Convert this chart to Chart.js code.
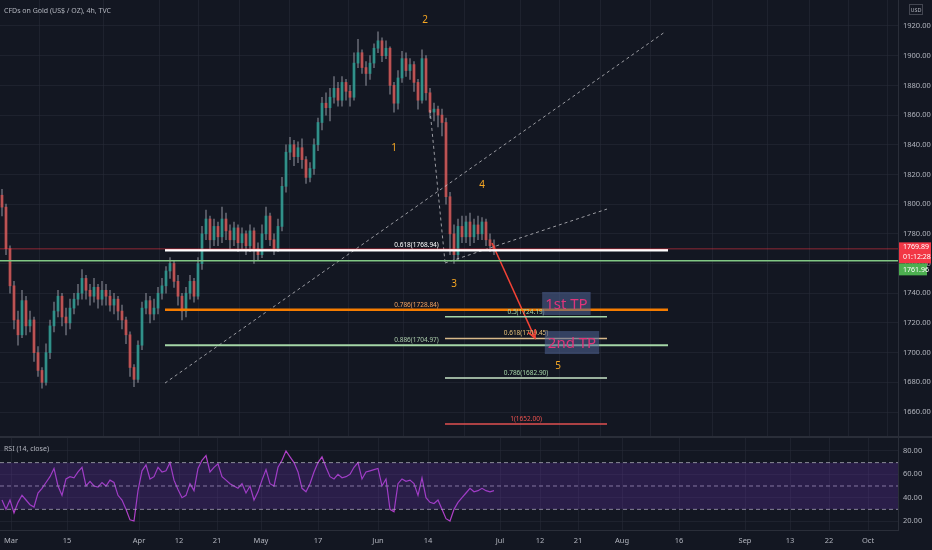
<!DOCTYPE html>
<html>
<head>
<meta charset="utf-8">
<script src="https://cdn.jsdelivr.net/npm/chart.js@4.4.1/dist/chart.umd.min.js"></script>
<style>
  html, body { margin: 0; padding: 0; background: #131722; }
  canvas { display: block; }
</style>
</head>
<body>
<canvas id="price" width="932" height="438"></canvas>
<canvas id="rsi" width="932" height="112"></canvas>
<script>
// 4h gold candles, sampled roughly every few bars (x = candle index)
const firstOpen = 1806;
const closes = [
  1798, 1770, 1745, 1722, 1712, 1735, 1718, 1722, 1700, 1688,
  1680, 1700, 1718, 1728, 1738, 1724, 1720, 1730, 1736, 1740,
  1750, 1742, 1738, 1744, 1736, 1742, 1738, 1732, 1736, 1728,
  1722, 1712, 1690, 1682, 1705, 1730, 1735, 1726, 1730, 1740,
  1745, 1755, 1760, 1748, 1738, 1728, 1740, 1748, 1738, 1760,
  1780, 1790, 1776, 1785, 1778, 1790, 1782, 1776, 1784, 1774,
  1780, 1772, 1782, 1770, 1766, 1780, 1792, 1776, 1770, 1785,
  1812, 1835, 1840, 1832, 1838, 1830, 1818, 1824, 1840, 1855,
  1868, 1865, 1872, 1878, 1870, 1882, 1876, 1872, 1895, 1902,
  1892, 1888, 1895, 1905, 1910, 1900, 1905, 1880, 1868, 1885,
  1898, 1890, 1894, 1882, 1870, 1898, 1875, 1862, 1864, 1860,
  1855, 1805, 1780, 1766, 1785, 1778, 1788, 1778, 1786, 1780,
  1788, 1776, 1772, 1769.89
];
const highs = [
  1810, 1800, 1772, 1748, 1728, 1742, 1738, 1728, 1724, 1704,
  1690, 1706, 1722, 1734, 1742, 1740, 1730, 1736, 1740, 1746,
  1756, 1752, 1746, 1750, 1746, 1748, 1746, 1742, 1740, 1738,
  1732, 1724, 1714, 1692, 1708, 1734, 1740, 1738, 1736, 1744,
  1750, 1758, 1764, 1762, 1752, 1740, 1744, 1752, 1750, 1764,
  1785, 1796, 1792, 1790, 1788, 1798, 1794, 1786, 1788, 1786,
  1784, 1782, 1786, 1784, 1774, 1786, 1798, 1794, 1780, 1790,
  1818, 1840, 1845, 1843, 1842, 1844, 1832, 1828, 1844, 1858,
  1872, 1875, 1878, 1886, 1882, 1886, 1884, 1880, 1902, 1911,
  1904, 1896, 1900, 1908, 1916, 1912, 1910, 1906, 1882, 1890,
  1903, 1902, 1898, 1896, 1884, 1904, 1900, 1878, 1868, 1866,
  1864, 1858, 1808, 1786, 1790, 1792, 1792, 1794, 1790, 1792,
  1791, 1790, 1780, 1776
];
const lows = [
  1792, 1766, 1740, 1716, 1705, 1710, 1712, 1714, 1694, 1684,
  1676, 1678, 1696, 1714, 1724, 1718, 1712, 1716, 1726, 1732,
  1736, 1736, 1732, 1734, 1730, 1732, 1732, 1728, 1726, 1722,
  1716, 1706, 1684, 1677, 1680, 1702, 1726, 1720, 1722, 1726,
  1736, 1740, 1750, 1744, 1732, 1722, 1724, 1736, 1734, 1736,
  1756, 1776, 1770, 1772, 1772, 1774, 1776, 1770, 1772, 1768,
  1770, 1766, 1768, 1760, 1762, 1764, 1776, 1772, 1766, 1768,
  1782, 1808, 1830, 1826, 1828, 1824, 1814, 1815, 1820, 1836,
  1850, 1860, 1856, 1868, 1866, 1866, 1870, 1866, 1870, 1892,
  1888, 1880, 1884, 1892, 1902, 1896, 1898, 1874, 1862, 1864,
  1882, 1886, 1884, 1876, 1864, 1868, 1870, 1858, 1856, 1852,
  1846, 1800, 1766, 1760, 1762, 1774, 1774, 1772, 1774, 1776,
  1776, 1772, 1768, 1766
];
const rsiValues = [
  38, 30, 38, 27, 36, 42, 38, 34, 32, 44,
  48, 53, 58, 65, 50, 42, 56, 58, 57, 62,
  66, 50, 54, 50, 49, 53, 50, 55, 53, 42,
  38, 30, 21, 20, 46, 63, 68, 56, 58, 66,
  62, 63, 70, 55, 47, 40, 42, 52, 46, 65,
  72, 76, 62, 66, 69, 58, 55, 52, 50, 48,
  52, 44, 50, 38, 45, 55, 64, 52, 50, 66,
  72, 80, 75, 70, 62, 48, 45, 52, 62, 70,
  75, 66, 58, 56, 60, 57, 58, 60, 66, 70,
  56, 62, 63, 64, 65, 50, 56, 30, 28, 52,
  56, 54, 55, 52, 42, 57, 40, 36, 35, 38,
  30, 22, 20, 30, 36, 40, 44, 48, 45, 46,
  48, 46, 45, 46
];

const priceTicks = [1660, 1680, 1700, 1720, 1740, 1760, 1780, 1800, 1820, 1840, 1860, 1880, 1900, 1920];
const rsiTicks = [20, 40, 60, 80];
const dateLabels = ['Mar', '15', 'Apr', '12', '21', 'May', '17', 'Jun', '14', 'Jul', '12', '21', 'Aug', '16', 'Sep', '13', '22', 'Oct'];
const dateTicks = [2.25, 16.25, 34.25, 44.25, 53.75, 64.75, 79, 94, 106.5, 124.5, 134.5, 144, 155, 169.25, 185.75, 197, 206.75, 216.5];

// drawings
const mainFibRange = [40.75, 166.5];
const mainFibRatios = ['0.618', '0.786', '0.886'];
const mainFibPrices = [1768.94, 1728.84, 1704.97];
const extFibRange = [110.75, 151.25];
const extFibRatios = ['0.5', '0.618', '0.786', '1'];
const extFibPrices = [1724.19, 1709.45, 1682.90, 1652.00];
const waveNames = ['1', '2', '3', '4', '5'];
const waveX = [98, 105.75, 113, 120, 139];
const wavePrice = [1837.8, 1924, 1746.2, 1812.9, 1691];
const trendLines = [
  [[40.75, 1679.5], [165.75, 1916]],
  [[110.75, 1760.4], [151.25, 1796.7]],
  [[107, 1863.4], [110.75, 1761]]
];
const arrowFrom = [122.5, 1773.8];
const arrowTo = [133.25, 1709.8];
const tpNames = ['1st TP', '2nd TP'];
const tpX = [141.1, 142.5];
const tpPrice = [1733.1, 1706.8];
const lastPrice = 1769.89;
const countdown = '01:12:28';
const refPrice = 1761.96;

const X_MIN = -0.5, X_MAX = 224;
const FONT = "'Noto Sans', sans-serif";
const TXT = '#b2b5be';
const GRID = 'rgba(42, 46, 57, 0.5)';
const UP = 'rgba(38, 166, 154, 0.72)';
const DOWN = 'rgba(239, 83, 80, 0.68)';
const WICK = 'rgba(150, 152, 162, 0.6)';

let opens = closes.map((c, i) => i === 0 ? firstOpen : closes[i - 1]);
let colors = closes.map((c, i) => c >= opens[i] ? UP : DOWN);

function seg(a, b) {
  return [{x: a[0], y: a[1]}, {x: b[0], y: b[1]}];
}
function lineSet(data, color, width, dash) {
  return {type: 'line', data: data, borderColor: color, borderWidth: width,
    borderDash: dash || [], pointRadius: 0, order: 1, fill: false};
}

const mainFibColors = ['#ffffff', '#f57c00', '#a5d6a7'];
const mainFibWidths = [2.5, 2.5, 2];
const mainFibText = ['#ffffff', '#f0a060', '#a9c9a9'];
const extFibColors = ['#a5d6a7', '#d8b98a', '#c8e6c9', '#e05050'];
const extFibText = ['#a5d6a7', '#e6c27a', '#a5d6a7', '#ef5350'];

let priceSets = [
  {type: 'bar', data: closes.map((c, i) => ({x: i, y: [lows[i], highs[i]]})),
    backgroundColor: WICK, barThickness: 1, grouped: false, order: 3},
  {type: 'bar', data: closes.map((c, i) => ({x: i, y: [opens[i], c]})),
    backgroundColor: colors, barThickness: 2.2, grouped: false, order: 2},
  lineSet(seg([X_MIN, lastPrice], [X_MAX, lastPrice]), 'rgba(242, 54, 69, 0.55)', 1),
  lineSet(seg([X_MIN, refPrice], [X_MAX, refPrice]), '#81c784', 1.5)
];
mainFibPrices.forEach((p, i) => {
  priceSets.push(lineSet(seg([mainFibRange[0], p], [mainFibRange[1], p]), mainFibColors[i], mainFibWidths[i]));
});
extFibPrices.forEach((p, i) => {
  priceSets.push(lineSet(seg([extFibRange[0], p], [extFibRange[1], p]), extFibColors[i], 1.5));
});
trendLines.forEach(t => {
  priceSets.push(lineSet(seg(t[0], t[1]), 'rgba(200, 200, 205, 0.75)', 1, [3, 3]));
});
priceSets.push(lineSet(seg(arrowFrom, arrowTo), '#f44336', 1.5));

function text(ctx, s, x, y, color, size, align, base) {
  ctx.fillStyle = color;
  ctx.font = size + 'px ' + FONT;
  ctx.textAlign = align || 'left';
  ctx.textBaseline = base || 'middle';
  ctx.fillText(s, x, y);
}

const priceDecor = {
  id: 'priceDecor',
  afterDatasetsDraw(chart) {
    const ctx = chart.ctx, xs = chart.scales.x, ys = chart.scales.y;
    ctx.save();
    // fib labels
    const mc = xs.getPixelForValue((mainFibRange[0] + mainFibRange[1]) / 2);
    mainFibPrices.forEach((p, i) => {
      text(ctx, mainFibRatios[i] + '(' + p.toFixed(2) + ')', mc, ys.getPixelForValue(p) - 5, mainFibText[i], 6.5, 'center');
    });
    const ec = xs.getPixelForValue((extFibRange[0] + extFibRange[1]) / 2);
    extFibPrices.forEach((p, i) => {
      text(ctx, extFibRatios[i] + '(' + p.toFixed(2) + ')', ec, ys.getPixelForValue(p) - 5, extFibText[i], 6.5, 'center');
    });
    // wave counts
    waveNames.forEach((w, i) => {
      text(ctx, w, xs.getPixelForValue(waveX[i]), ys.getPixelForValue(wavePrice[i]), '#f5a623', 10, 'center');
    });
    // arrow head
    const ax = xs.getPixelForValue(arrowFrom[0]), ay = ys.getPixelForValue(arrowFrom[1]);
    const bx = xs.getPixelForValue(arrowTo[0]), by = ys.getPixelForValue(arrowTo[1]);
    const ang = Math.atan2(by - ay, bx - ax);
    ctx.strokeStyle = '#f44336';
    ctx.lineWidth = 1.5;
    ctx.beginPath();
    ctx.moveTo(bx - 9 * Math.cos(ang - 0.45), by - 9 * Math.sin(ang - 0.45));
    ctx.lineTo(bx, by);
    ctx.lineTo(bx - 9 * Math.cos(ang + 0.45), by - 9 * Math.sin(ang + 0.45));
    ctx.stroke();
    // take profit boxes
    tpNames.forEach((t, i) => {
      const cx = xs.getPixelForValue(tpX[i]), cy = ys.getPixelForValue(tpPrice[i]);
      ctx.font = '15px ' + FONT;
      const w = ctx.measureText(t).width + 6;
      ctx.fillStyle = 'rgba(80, 100, 150, 0.55)';
      ctx.fillRect(cx - w / 2, cy - 11.5, w, 23);
      text(ctx, t, cx, cy + 1, '#e0357a', 15, 'center');
    });
    // header
    text(ctx, 'CFDs on Gold (US$ / OZ), 4h, TVC', 4, 11, TXT, 7);
    ctx.restore();
  },
  afterDraw(chart) {
    const ctx = chart.ctx, ys = chart.scales.y;
    const left = chart.chartArea.right + 1;
    ctx.save();
    // USD box
    ctx.strokeStyle = '#434651';
    ctx.lineWidth = 1;
    ctx.strokeRect(left + 10.5, 4.5, 13, 10);
    text(ctx, 'USD', left + 17, 10, TXT, 5.5, 'center');
    // last price badge
    const py = ys.getPixelForValue(lastPrice);
    ctx.fillStyle = '#f23645';
    ctx.fillRect(left, py - 6.5, 32, 21);
    text(ctx, lastPrice.toFixed(2), left + 4, py - 1.5, '#ffffff', 7);
    text(ctx, countdown, left + 4, py + 8, '#ffffff', 7);
    // reference line badge
    const gy = py + 14.5;
    ctx.fillStyle = '#4caf50';
    ctx.fillRect(left, gy, 28, 12);
    text(ctx, refPrice.toFixed(2), left + 4, gy + 6.5, '#ffffff', 7);
    // pane separator
    ctx.fillStyle = '#2a2e39';
    ctx.fillRect(0, chart.height - 2, chart.width, 2);
    ctx.restore();
  }
};

function noPad(a) {
  a.paddingTop = 0; a.paddingBottom = 0; a.paddingLeft = 0; a.paddingRight = 0;
}

function rightAxis(min, max, ticks) {
  return {
    type: 'linear', position: 'right', min: min, max: max,
    afterFit: a => { a.width = 34; noPad(a); },
    afterBuildTicks: a => { a.ticks = ticks.map(v => ({value: v})); },
    grid: {color: GRID, drawTicks: false},
    border: {display: true, color: '#2a2e39'},
    ticks: {color: TXT, padding: 5, font: {size: 7.5, family: FONT},
      callback: v => Number(v).toFixed(2)}
  };
}

new Chart(document.getElementById('price'), {
  type: 'bar',
  data: {datasets: priceSets},
  options: {
    responsive: false, animation: false,
    layout: {padding: 0},
    plugins: {legend: {display: false}, tooltip: {enabled: false}},
    scales: {
      x: {type: 'linear', min: X_MIN, max: X_MAX, offset: false,
        afterFit: a => { a.height = 0; noPad(a); },
        afterBuildTicks: a => { a.ticks = dateTicks.map(v => ({value: v})); },
        grid: {color: GRID, drawTicks: false},
        border: {display: false},
        ticks: {display: false}},
      y: rightAxis(1642.5, 1937.5, priceTicks)
    }
  },
  plugins: [priceDecor]
});

function band(v) {
  return {data: seg([X_MIN, v], [X_MAX, v]), borderColor: 'rgba(190, 190, 200, 0.7)',
    borderWidth: 1, borderDash: [4, 3], pointRadius: 0, fill: false};
}
let band70 = band(70);
band70.fill = '+2';
band70.backgroundColor = 'rgba(110, 50, 190, 0.25)';

const rsiDecor = {
  id: 'rsiDecor',
  afterDatasetsDraw(chart) {
    text(chart.ctx, 'RSI (14, close)', 4, 11, TXT, 7);
  }
};

new Chart(document.getElementById('rsi'), {
  type: 'line',
  data: {datasets: [
    band70, band(50), band(30),
    {data: rsiValues.map((v, i) => ({x: i, y: v})), borderColor: '#b040c8',
      borderWidth: 1.2, pointRadius: 0, fill: false, tension: 0}
  ]},
  options: {
    responsive: false, animation: false,
    layout: {padding: 0},
    plugins: {legend: {display: false}, tooltip: {enabled: false}},
    scales: {
      x: {type: 'linear', min: X_MIN, max: X_MAX, offset: false,
        afterFit: a => { a.height = 20; noPad(a); },
        afterBuildTicks: a => { a.ticks = dateTicks.map(v => ({value: v})); },
        grid: {color: GRID, drawTicks: false},
        border: {display: true, color: '#2a2e39'},
        ticks: {color: TXT, padding: 6, maxRotation: 0, autoSkip: false,
          font: {size: 7.5, family: FONT},
          callback: (v, i) => dateLabels[i]}},
      y: rightAxis(12.3, 91.1, rsiTicks)
    }
  },
  plugins: [rsiDecor]
});
</script>
</body>
</html>
